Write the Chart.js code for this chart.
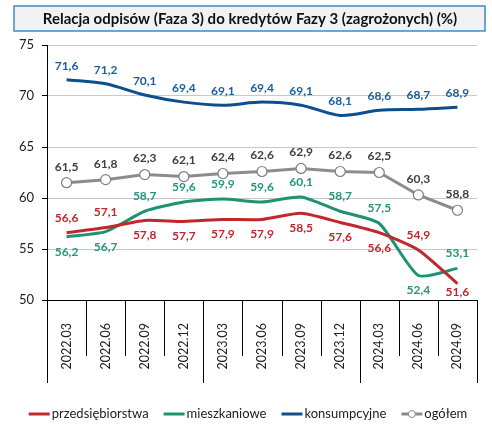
<!DOCTYPE html>
<html>
<head>
<meta charset="utf-8">
<script src="https://cdn.jsdelivr.net/npm/chart.js@4"></script>
<style>
  html, body { margin: 0; padding: 0; background: #fff; }
  #wrap { width: 492px; height: 429px; }
</style>
</head>
<body>
<div id="wrap"><canvas id="myChart" width="492" height="429"></canvas></div>
<script>
const labels = ['2022.03', '2022.06', '2022.09', '2022.12', '2023.03', '2023.06', '2023.09', '2023.12', '2024.03', '2024.06', '2024.09'];
const przedsiebiorstwa = [56.6, 57.1, 57.8, 57.7, 57.9, 57.9, 58.5, 57.6, 56.6, 54.9, 51.6];
const mieszkaniowe = [56.2, 56.7, 58.7, 59.6, 59.9, 59.6, 60.1, 58.7, 57.5, 52.4, 53.1];
const konsumpcyjne = [71.6, 71.2, 70.1, 69.4, 69.1, 69.4, 69.1, 68.1, 68.6, 68.7, 68.9];
const ogolem = [61.5, 61.8, 62.3, 62.1, 62.4, 62.6, 62.9, 62.6, 62.5, 60.3, 58.8];
const yTicks = [50, 55, 60, 65, 70, 75];

const FONT = 'Lato, "Open Sans", sans-serif';

// value labels above / below each point
const valueLabels = {
  id: 'valueLabels',
  afterDraw(chart) {
    const ctx = chart.ctx;
    const a = chart.chartArea;
    ctx.save();
    ctx.font = 'bold 12px ' + FONT;
    ctx.textAlign = 'center';
    ctx.textBaseline = 'middle';
    chart.data.datasets.forEach((ds, i) => {
      const meta = chart.getDatasetMeta(i);
      ctx.fillStyle = ds.labelColor;
      meta.data.forEach((pt, j) => {
        const below = ds.labelPos[j] === 'b';
        let y = pt.y + (below ? ds.labelGap : -ds.labelGap);
        y = Math.min(y, a.bottom - 8);
        ctx.fillText(ds.data[j].toFixed(1).replace('.', ','), pt.x, y);
      });
    });
    ctx.restore();
  }
};

// title box, category separators and legend
const decor = {
  id: 'decor',
  beforeDraw(chart) {
    const ctx = chart.ctx;
    ctx.save();
    ctx.fillStyle = '#f2f2f2';
    ctx.fillRect(14, 6, 471, 25);
    ctx.strokeStyle = '#3d8bc7';
    ctx.lineWidth = 1.5;
    ctx.strokeRect(14, 6, 471, 25);
    ctx.fillStyle = '#111';
    ctx.font = 'bold 15px ' + FONT;
    ctx.textAlign = 'center';
    ctx.textBaseline = 'middle';
    ctx.fillText('Relacja odpisów (Faza 3) do kredytów Fazy 3 (zagrożonych) (%)', 250, 19);
    ctx.restore();
  },
  afterDraw(chart) {
    const ctx = chart.ctx;
    const a = chart.chartArea;
    const n = chart.data.labels.length;
    const step = (a.right - a.left) / n;
    ctx.save();
    ctx.strokeStyle = '#000';
    ctx.lineWidth = 1;
    for (let i = 0; i <= n; i++) {
      const x = Math.round(a.left + i * step) + 0.5;
      const len = (i % 4 === 0 || i === n) ? 83 : 56;
      ctx.beginPath();
      ctx.moveTo(x, a.bottom);
      ctx.lineTo(x, a.bottom + len);
      ctx.stroke();
    }
    // legend
    ctx.font = '13px ' + FONT;
    ctx.textBaseline = 'middle';
    const y = 414;
    const items = chart.data.datasets.map(ds => ({ text: ds.label, ds }));
    let total = 0;
    items.forEach(it => { it.w = 23 + ctx.measureText(it.text).width; total += it.w; });
    total += 15 * (items.length - 1);
    let x = 248 - total / 2;
    items.forEach(it => {
      ctx.strokeStyle = it.ds.borderColor;
      ctx.lineWidth = 3;
      ctx.beginPath();
      ctx.moveTo(x, y);
      ctx.lineTo(x + 21, y);
      ctx.stroke();
      if (it.ds.pointRadius > 0) {
        ctx.fillStyle = '#fff';
        ctx.lineWidth = 1;
        ctx.beginPath();
        ctx.arc(x + 10.5, y, 3.5, 0, Math.PI * 2);
        ctx.fill();
        ctx.stroke();
      }
      ctx.fillStyle = '#222';
      ctx.textAlign = 'left';
      ctx.fillText(it.text, x + 23, y);
      x += it.w + 15;
    });
    ctx.restore();
  }
};

const data = {
  labels: labels,
  datasets: [
    {
      label: 'przedsiębiorstwa',
      data: przedsiebiorstwa,
      borderColor: '#c1272d',
      labelColor: '#c1272d',
      labelPos: ['a', 'a', 'b', 'b', 'b', 'b', 'b', 'b', 'b', 'a', 'b'],
      labelGap: 15,
      borderWidth: 3,
      pointRadius: 0,
      tension: 0.2,
    },
    {
      label: 'mieszkaniowe',
      data: mieszkaniowe,
      borderColor: '#1f9370',
      labelColor: '#24977a',
      labelPos: ['b', 'b', 'a', 'a', 'a', 'a', 'a', 'a', 'a', 'b', 'a'],
      labelGap: 15,
      borderWidth: 3,
      pointRadius: 0,
      tension: 0.2,
    },
    {
      label: 'konsumpcyjne',
      data: konsumpcyjne,
      borderColor: '#0c4f8c',
      labelColor: '#1b5e9c',
      labelPos: Array(11).fill('a'),
      labelGap: 14,
      borderWidth: 3,
      pointRadius: 0,
      tension: 0.3,
    },
    {
      label: 'ogółem',
      data: ogolem,
      borderColor: '#8c8c8c',
      labelColor: '#404040',
      labelPos: Array(11).fill('a'),
      labelGap: 16,
      borderWidth: 3,
      pointRadius: 5,
      pointBorderWidth: 1.2,
      pointBackgroundColor: '#fff',
      pointBorderColor: '#7f7f7f',
      tension: 0,
    }
  ]
};

const config = {
  type: 'line',
  data: data,
  options: {
    responsive: false,
    animation: false,
    layout: { padding: { top: 45, left: 0, right: 15, bottom: 0 } },
    plugins: {
      legend: { display: false },
      title: { display: false },
      tooltip: { enabled: false }
    },
    scales: {
      x: {
        offset: true,
        grid: { display: false },
        border: { color: '#000', width: 1 },
        ticks: {
          autoSkip: false,
          maxRotation: 90,
          minRotation: 90,
          padding: 15,
          color: '#222',
          font: { family: FONT, size: 12.5 }
        },
        afterFit(scale) { scale.height = 129; }
      },
      y: {
        min: 50,
        max: 75,
        afterBuildTicks(scale) { scale.ticks = yTicks.map(v => ({ value: v })); },
        grid: { color: '#c8c8c8', tickLength: 5, tickColor: '#000' },
        border: { color: '#000', width: 1 },
        ticks: {
          padding: 8,
          color: '#222',
          font: { family: FONT, size: 13 }
        },
        afterFit(scale) { scale.width = 47; }
      }
    }
  },
  plugins: [decor, valueLabels]
};

let ctx = document.getElementById('myChart').getContext('2d');
let chart = new Chart(ctx, config);
</script>
</body>
</html>
